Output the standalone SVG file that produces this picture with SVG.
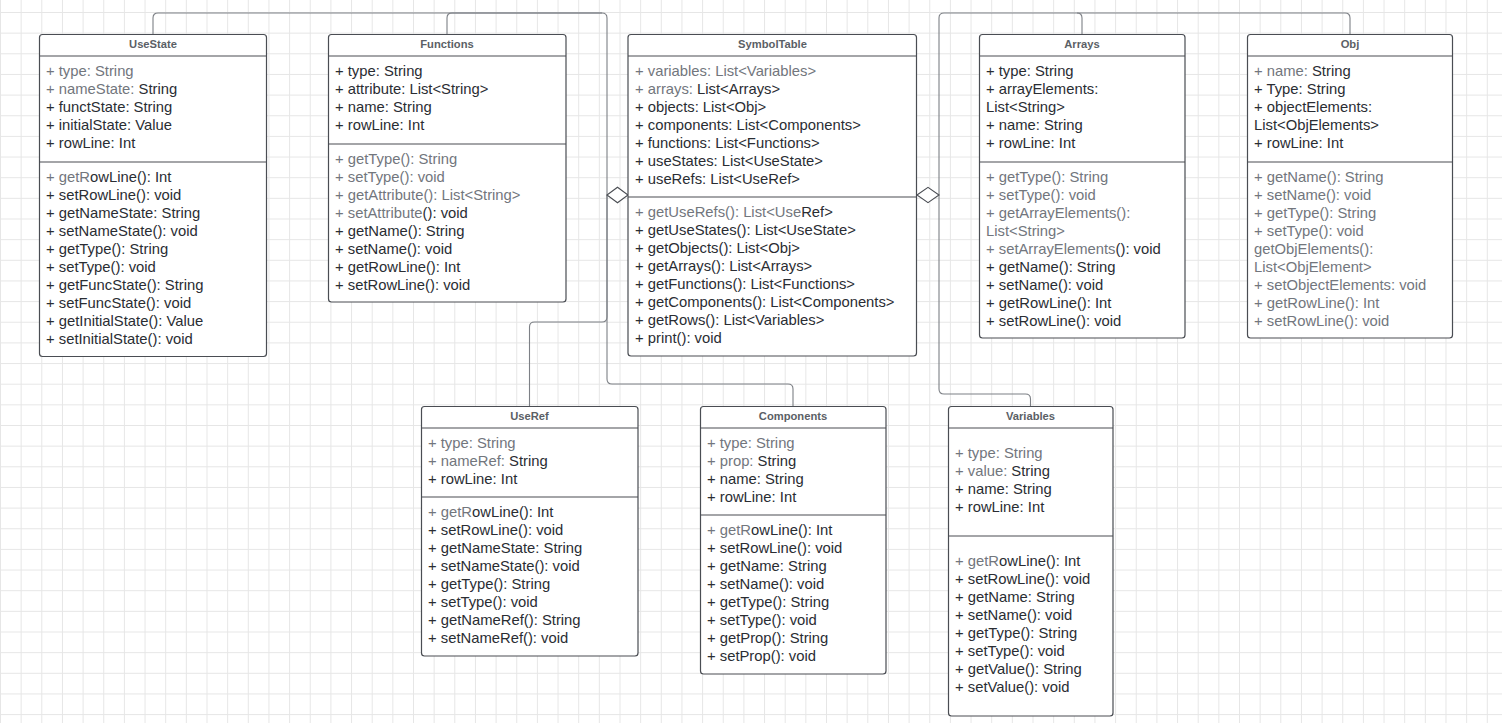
<svg xmlns="http://www.w3.org/2000/svg" width="1502" height="723" viewBox="0 0 1502 723">
  <defs>
    <pattern id="grid" x="0" y="12" width="20.65" height="20.65" patternUnits="userSpaceOnUse">
      <rect x="0" y="0" width="20.65" height="1" fill="#e6e6e6"/>
      <rect x="0" y="0" width="1" height="20.65" fill="#e6e6e6"/>
    </pattern>
    <style>
      .box { fill: #ffffff; stroke: #4a4d53; stroke-width: 1.2; }
      .sep { stroke: #4a4d53; stroke-width: 1.2; fill: none; }
      .hdr { font-family: "Liberation Sans", Arial, sans-serif; font-size: 11.2px; font-weight: bold; fill: #5b5f66; text-anchor: middle; }
      .m { font-family: "Liberation Sans", Arial, sans-serif; font-size: 14.8px; fill: #2a2d33; }
      .g { fill: #72767d; }
      .link { fill: none; stroke: #7d8086; stroke-width: 1.1; }
      .agg { fill: #ffffff; stroke: #4a4d53; stroke-width: 1.1; }
    </style>
  </defs>

  <rect x="0" y="0" width="1502" height="723" fill="#ffffff"/>
  <rect x="0" y="0" width="1502" height="723" fill="url(#grid)"/>

  <!-- aggregation connectors into SymbolTable -->
  <g id="connectors">
    <path class="link" d="M153,34 V18 Q153,13 158,13 H602 Q607,13 607,18 V195"/>
    <path class="link" d="M447,34 V18 Q447,13 452,13 H602"/>
    <path class="link" d="M529.5,406 V327 Q529.5,322 534.5,322 H602 Q607,322 607,317 V195"/>
    <path class="link" d="M793,406 V389 Q793,384 788,384 H612 Q607,384 607,379 V195"/>
    <path class="link" d="M1082,34 V18 Q1082,13 1077,13 H944 Q939,13 939,18 V195"/>
    <path class="link" d="M1350,34 V18 Q1350,13 1345,13 H1077"/>
    <path class="link" d="M1030.5,406 V399 Q1030.5,394 1025.5,394 H944 Q939,394 939,389 V195"/>
    <path class="agg" d="M607,195 L617.5,187.3 L628,195 L617.5,202.7 Z"/>
    <path class="agg" d="M917,195 L928,187.3 L939,195 L928,202.7 Z"/>
  </g>

  <g id="UseState">
    <rect class="box" x="39.5" y="34.5" width="227" height="322" rx="3"/>
    <line class="sep" x1="39.5" y1="56" x2="266.5" y2="56"/>
    <line class="sep" x1="39.5" y1="162" x2="266.5" y2="162"/>
    <text class="hdr" x="153" y="48">UseState</text>
    <text class="m" x="46" y="76"><tspan class="g">+ type: String</tspan></text>
    <text class="m" x="46" y="94"><tspan class="g">+ nameState:</tspan> String</text>
    <text class="m" x="46" y="112">+ functState: String</text>
    <text class="m" x="46" y="130">+ initialState: Value</text>
    <text class="m" x="46" y="148">+ rowLine: Int</text>
    <text class="m" x="46" y="182"><tspan class="g">+ getR</tspan>owLine(): Int</text>
    <text class="m" x="46" y="200">+ setRowLine(): void</text>
    <text class="m" x="46" y="218">+ getNameState: String</text>
    <text class="m" x="46" y="236">+ setNameState(): void</text>
    <text class="m" x="46" y="254">+ getType(): String</text>
    <text class="m" x="46" y="272">+ setType(): void</text>
    <text class="m" x="46" y="290">+ getFuncState(): String</text>
    <text class="m" x="46" y="308">+ setFuncState(): void</text>
    <text class="m" x="46" y="326">+ getInitialState(): Value</text>
    <text class="m" x="46" y="344">+ setInitialState(): void</text>
  </g>

  <g id="Functions">
    <rect class="box" x="328.5" y="34.5" width="237.5" height="267.5" rx="3"/>
    <line class="sep" x1="328.5" y1="56" x2="566" y2="56"/>
    <line class="sep" x1="328.5" y1="144" x2="566" y2="144"/>
    <text class="hdr" x="447" y="48">Functions</text>
    <text class="m" x="335" y="76">+ type: String</text>
    <text class="m" x="335" y="94">+ attribute: List&lt;String&gt;</text>
    <text class="m" x="335" y="112">+ name: String</text>
    <text class="m" x="335" y="130">+ rowLine: Int</text>
    <text class="m" x="335" y="164"><tspan class="g">+ getType(): String</tspan></text>
    <text class="m" x="335" y="182"><tspan class="g">+ setType(): void</tspan></text>
    <text class="m" x="335" y="200"><tspan class="g">+ getAttribute(): List&lt;String&gt;</tspan></text>
    <text class="m" x="335" y="218"><tspan class="g">+ setAttribute</tspan>(): void</text>
    <text class="m" x="335" y="236">+ getName(): String</text>
    <text class="m" x="335" y="254">+ setName(): void</text>
    <text class="m" x="335" y="272">+ getRowLine(): Int</text>
    <text class="m" x="335" y="290">+ setRowLine(): void</text>
  </g>

  <g id="SymbolTable">
    <rect class="box" x="628" y="34.5" width="288.5" height="321.5" rx="3"/>
    <line class="sep" x1="628" y1="56" x2="916.5" y2="56"/>
    <line class="sep" x1="628" y1="197" x2="916.5" y2="197"/>
    <text class="hdr" x="772.5" y="48">SymbolTable</text>
    <text class="m" x="635" y="76"><tspan class="g">+ variables: List&lt;Variables&gt;</tspan></text>
    <text class="m" x="635" y="94"><tspan class="g">+ arrays:</tspan> List&lt;Arrays&gt;</text>
    <text class="m" x="635" y="112">+ objects: List&lt;Obj&gt;</text>
    <text class="m" x="635" y="130">+ components: List&lt;Components&gt;</text>
    <text class="m" x="635" y="148">+ functions: List&lt;Functions&gt;</text>
    <text class="m" x="635" y="166">+ useStates: List&lt;UseState&gt;</text>
    <text class="m" x="635" y="184">+ useRefs: List&lt;UseRef&gt;</text>
    <text class="m" x="635" y="217"><tspan class="g">+ getUseRefs(): List&lt;Use</tspan>Ref&gt;</text>
    <text class="m" x="635" y="235">+ getUseStates(): List&lt;UseState&gt;</text>
    <text class="m" x="635" y="253">+ getObjects(): List&lt;Obj&gt;</text>
    <text class="m" x="635" y="271">+ getArrays(): List&lt;Arrays&gt;</text>
    <text class="m" x="635" y="289">+ getFunctions(): List&lt;Functions&gt;</text>
    <text class="m" x="635" y="307">+ getComponents(): List&lt;Components&gt;</text>
    <text class="m" x="635" y="325">+ getRows(): List&lt;Variables&gt;</text>
    <text class="m" x="635" y="343">+ print(): void</text>
  </g>

  <g id="Arrays">
    <rect class="box" x="979.5" y="34.5" width="205.5" height="303.5" rx="3"/>
    <line class="sep" x1="979.5" y1="56" x2="1185" y2="56"/>
    <line class="sep" x1="979.5" y1="162" x2="1185" y2="162"/>
    <text class="hdr" x="1082" y="48">Arrays</text>
    <text class="m" x="986" y="76">+ type: String</text>
    <text class="m" x="986" y="94">+ arrayElements:</text>
    <text class="m" x="986" y="112">List&lt;String&gt;</text>
    <text class="m" x="986" y="130">+ name: String</text>
    <text class="m" x="986" y="148">+ rowLine: Int</text>
    <text class="m" x="986" y="182"><tspan class="g">+ getType(): String</tspan></text>
    <text class="m" x="986" y="200"><tspan class="g">+ setType(): void</tspan></text>
    <text class="m" x="986" y="218"><tspan class="g">+ getArrayElements():</tspan></text>
    <text class="m" x="986" y="236"><tspan class="g">List&lt;String&gt;</tspan></text>
    <text class="m" x="986" y="254"><tspan class="g">+ setArrayElements</tspan>(): void</text>
    <text class="m" x="986" y="272">+ getName(): String</text>
    <text class="m" x="986" y="290">+ setName(): void</text>
    <text class="m" x="986" y="308">+ getRowLine(): Int</text>
    <text class="m" x="986" y="326">+ setRowLine(): void</text>
  </g>

  <g id="Obj">
    <rect class="box" x="1247.5" y="34.5" width="205" height="303.5" rx="3"/>
    <line class="sep" x1="1247.5" y1="56" x2="1452.5" y2="56"/>
    <line class="sep" x1="1247.5" y1="162" x2="1452.5" y2="162"/>
    <text class="hdr" x="1350" y="48">Obj</text>
    <text class="m" x="1254" y="76"><tspan class="g">+ name:</tspan> String</text>
    <text class="m" x="1254" y="94">+ Type: String</text>
    <text class="m" x="1254" y="112">+ objectElements:</text>
    <text class="m" x="1254" y="130">List&lt;ObjElements&gt;</text>
    <text class="m" x="1254" y="148">+ rowLine: Int</text>
    <text class="m g" x="1254" y="182">+ getName(): String</text>
    <text class="m g" x="1254" y="200">+ setName(): void</text>
    <text class="m g" x="1254" y="218">+ getType(): String</text>
    <text class="m g" x="1254" y="236">+ setType(): void</text>
    <text class="m g" x="1254" y="254">getObjElements():</text>
    <text class="m g" x="1254" y="272">List&lt;ObjElement&gt;</text>
    <text class="m g" x="1254" y="290">+ setObjectElements: void</text>
    <text class="m g" x="1254" y="308">+ getRowLine(): Int</text>
    <text class="m g" x="1254" y="326">+ setRowLine(): void</text>
  </g>

  <g id="UseRef">
    <rect class="box" x="421.5" y="406.5" width="216.5" height="249.5" rx="3"/>
    <line class="sep" x1="421.5" y1="428" x2="638" y2="428"/>
    <line class="sep" x1="421.5" y1="497" x2="638" y2="497"/>
    <text class="hdr" x="529.5" y="420">UseRef</text>
    <text class="m" x="428" y="448"><tspan class="g">+ type: String</tspan></text>
    <text class="m" x="428" y="466"><tspan class="g">+ nameRef:</tspan> String</text>
    <text class="m" x="428" y="484">+ rowLine: Int</text>
    <text class="m" x="428" y="517"><tspan class="g">+ getR</tspan>owLine(): Int</text>
    <text class="m" x="428" y="535">+ setRowLine(): void</text>
    <text class="m" x="428" y="553">+ getNameState: String</text>
    <text class="m" x="428" y="571">+ setNameState(): void</text>
    <text class="m" x="428" y="589">+ getType(): String</text>
    <text class="m" x="428" y="607">+ setType(): void</text>
    <text class="m" x="428" y="625">+ getNameRef(): String</text>
    <text class="m" x="428" y="643">+ setNameRef(): void</text>
  </g>

  <g id="Components">
    <rect class="box" x="700.5" y="406.5" width="185.5" height="267.5" rx="3"/>
    <line class="sep" x1="700.5" y1="428" x2="886" y2="428"/>
    <line class="sep" x1="700.5" y1="515" x2="886" y2="515"/>
    <text class="hdr" x="793" y="420">Components</text>
    <text class="m" x="707" y="448"><tspan class="g">+ type: String</tspan></text>
    <text class="m" x="707" y="466"><tspan class="g">+ prop:</tspan> String</text>
    <text class="m" x="707" y="484">+ name: String</text>
    <text class="m" x="707" y="502">+ rowLine: Int</text>
    <text class="m" x="707" y="535"><tspan class="g">+ getR</tspan>owLine(): Int</text>
    <text class="m" x="707" y="553">+ setRowLine(): void</text>
    <text class="m" x="707" y="571">+ getName: String</text>
    <text class="m" x="707" y="589">+ setName(): void</text>
    <text class="m" x="707" y="607">+ getType(): String</text>
    <text class="m" x="707" y="625">+ setType(): void</text>
    <text class="m" x="707" y="643">+ getProp(): String</text>
    <text class="m" x="707" y="661">+ setProp(): void</text>
  </g>

  <g id="Variables">
    <rect class="box" x="948.5" y="406.5" width="164.5" height="309.5" rx="3"/>
    <line class="sep" x1="948.5" y1="428" x2="1113" y2="428"/>
    <line class="sep" x1="948.5" y1="536" x2="1113" y2="536"/>
    <text class="hdr" x="1030.5" y="420">Variables</text>
    <text class="m" x="955" y="458"><tspan class="g">+ type: String</tspan></text>
    <text class="m" x="955" y="476"><tspan class="g">+ value:</tspan> String</text>
    <text class="m" x="955" y="494">+ name: String</text>
    <text class="m" x="955" y="512">+ rowLine: Int</text>
    <text class="m" x="955" y="566"><tspan class="g">+ getR</tspan>owLine(): Int</text>
    <text class="m" x="955" y="584">+ setRowLine(): void</text>
    <text class="m" x="955" y="602">+ getName: String</text>
    <text class="m" x="955" y="620">+ setName(): void</text>
    <text class="m" x="955" y="638">+ getType(): String</text>
    <text class="m" x="955" y="656">+ setType(): void</text>
    <text class="m" x="955" y="674">+ getValue(): String</text>
    <text class="m" x="955" y="692">+ setValue(): void</text>
  </g>
</svg>
